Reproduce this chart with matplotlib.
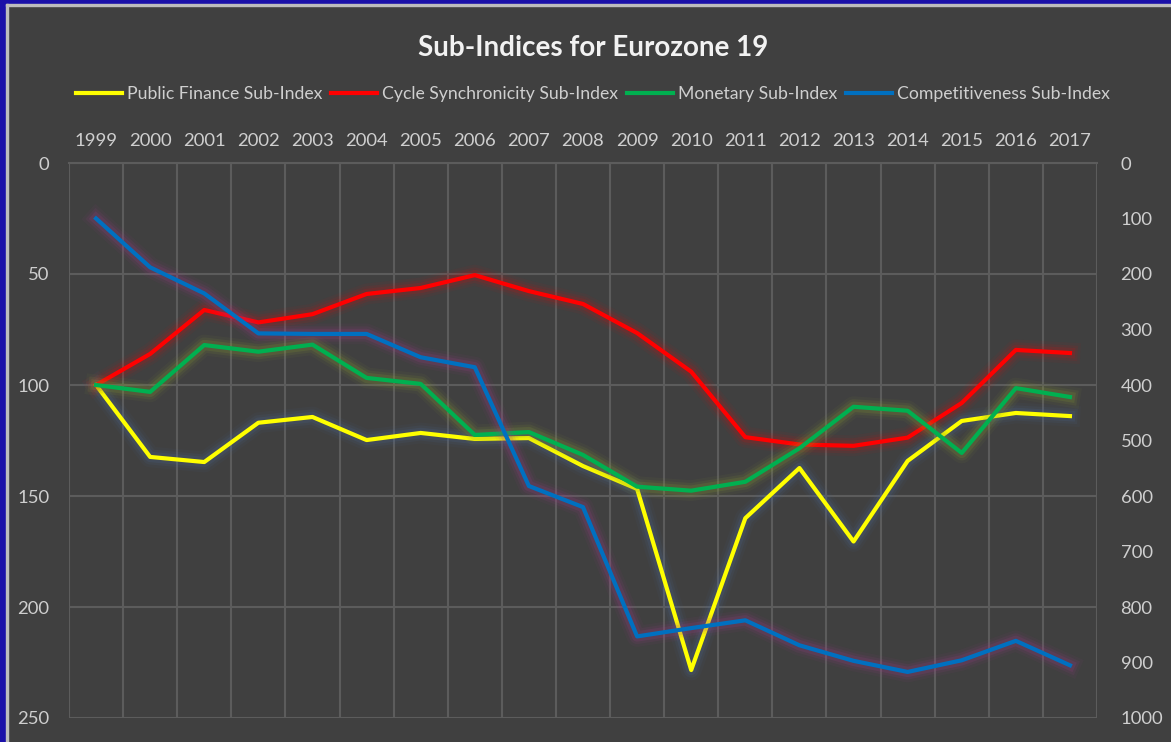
import matplotlib
matplotlib.use("Agg")
import matplotlib.pyplot as plt
import matplotlib.patheffects as pe
from matplotlib.patches import Rectangle
import numpy as np

years = [str(y) for y in range(1999, 2018)]

public_finance = [100, 132.4, 134.7, 117, 114.4, 124.8, 121.6, 124.3, 123.9, 136.5,
                  146.8, 228.4, 160, 137.4, 170.5, 134.2, 116.2, 112.6, 114]
cycle_sync = [100, 86, 66.2, 71.8, 68.1, 59, 56.3, 50.5, 57.7, 63.5,
              76.6, 94, 123.5, 126.8, 127.4, 123.7, 108.1, 84.2, 85.6]
monetary = [100, 103.1, 82, 85, 81.8, 96.8, 99.5, 122.5, 121.2, 131.5,
            145.8, 147.6, 143.6, 128.5, 109.8, 111.6, 130.6, 101.4, 105.4]
competitiveness = [100, 188, 235, 307, 308, 308, 350, 368, 582, 620,
                   853, 838, 824, 869, 897, 917, 896, 861, 905]

series_names = ["Public Finance Sub-Index", "Cycle Synchronicity Sub-Index",
                "Monetary Sub-Index", "Competitiveness Sub-Index"]
colors = ["#FFFF00", "#FF0000", "#00B050", "#0070C0"]
glow_colors = ["#4a6a9a", "#d01010", "#8aa030", "#a03a8a"]

bg = "#404040"
grid_c = "#5c5c5c"
txt_c = "#cfcfcf"

plt.rcParams['font.family'] = ['Lato', 'DejaVu Sans']

fig = plt.figure(figsize=(11.71, 7.42), dpi=100, facecolor=bg)
ax = fig.add_axes([69 / 1171, 1 - 718 / 742, (1097 - 69) / 1171, (718 - 163) / 742])
ax.set_facecolor(bg)
ax2 = ax.twinx()

x = np.arange(len(years))


def glow(gc):
    effects = []
    for w, a in [(15, 0.06), (11, 0.10), (7.5, 0.16)]:
        effects.append(pe.Stroke(linewidth=w, foreground=gc, alpha=a, joinstyle="round"))
    effects.append(pe.Normal())
    return effects


for vals, c, gc, name, axis in zip([public_finance, cycle_sync, monetary, competitiveness],
                                   colors, glow_colors, series_names,
                                   [ax, ax, ax, ax2]):
    axis.plot(x, vals, color=c, lw=3, label=name, zorder=3,
              solid_joinstyle="round", path_effects=glow(gc))

ax.set_xlim(-0.5, len(years) - 0.5)
ax.set_ylim(250, 0)
ax2.set_ylim(1000, 0)

ax.set_yticks(np.arange(0, 251, 50))
ax2.set_yticks(np.arange(0, 1001, 100))

ax.xaxis.tick_top()
ax.set_xticks(x)
ax.set_xticklabels(years)
ax.set_xticks(np.arange(-0.5, len(years), 1), minor=True)
ax.grid(which="minor", axis="x", color=grid_c, lw=1.5)
ax.grid(which="major", axis="y", color=grid_c, lw=1.5)
ax.set_axisbelow(True)

ax.tick_params(axis="x", which="both", length=0, colors=txt_c, labelsize=13.3, pad=10)
ax.tick_params(axis="y", length=0, colors=txt_c, labelsize=13.3, pad=14)
ax2.tick_params(axis="y", length=0, colors=txt_c, labelsize=13.3, pad=17)

for a in (ax, ax2):
    for s in a.spines.values():
        s.set_visible(False)
ax.spines["top"].set_visible(True)
ax.spines["top"].set_color(grid_c)
ax.spines["top"].set_linewidth(1.5)

fig.text(593 / 1171, 1 - 48 / 742, "Sub-Indices for Eurozone 19", ha="center", va="center",
         color="#f2f2f2", fontsize=20, fontweight="bold")

leg_handles = [plt.Line2D([], [], color=c, lw=3) for c in colors]
fig.legend(leg_handles, series_names, loc="center", bbox_to_anchor=(593 / 1171, 1 - 94 / 742),
           ncol=4, frameon=False, fontsize=12.7, labelcolor=txt_c, handlelength=2.6,
           handletextpad=0.3, columnspacing=0.5)

# frame: blue border on left and top, thin light line inside
fig.patches.append(Rectangle((0, 0), 6 / 1171, 1, transform=fig.transFigure,
                             color="#1a10a8", zorder=10))
fig.patches.append(Rectangle((0, 1 - 4 / 742), 1, 4 / 742, transform=fig.transFigure,
                             color="#1a10a8", zorder=10))
fig.patches.append(Rectangle((6 / 1171, 0), 1.5 / 1171, 1 - 4 / 742, transform=fig.transFigure,
                             color="#bdbdbd", zorder=10))
fig.patches.append(Rectangle((6 / 1171, 1 - 5.5 / 742), 1, 1.5 / 742, transform=fig.transFigure,
                             color="#bdbdbd", zorder=10))

fig.savefig("out.png", dpi=100, facecolor=bg)
